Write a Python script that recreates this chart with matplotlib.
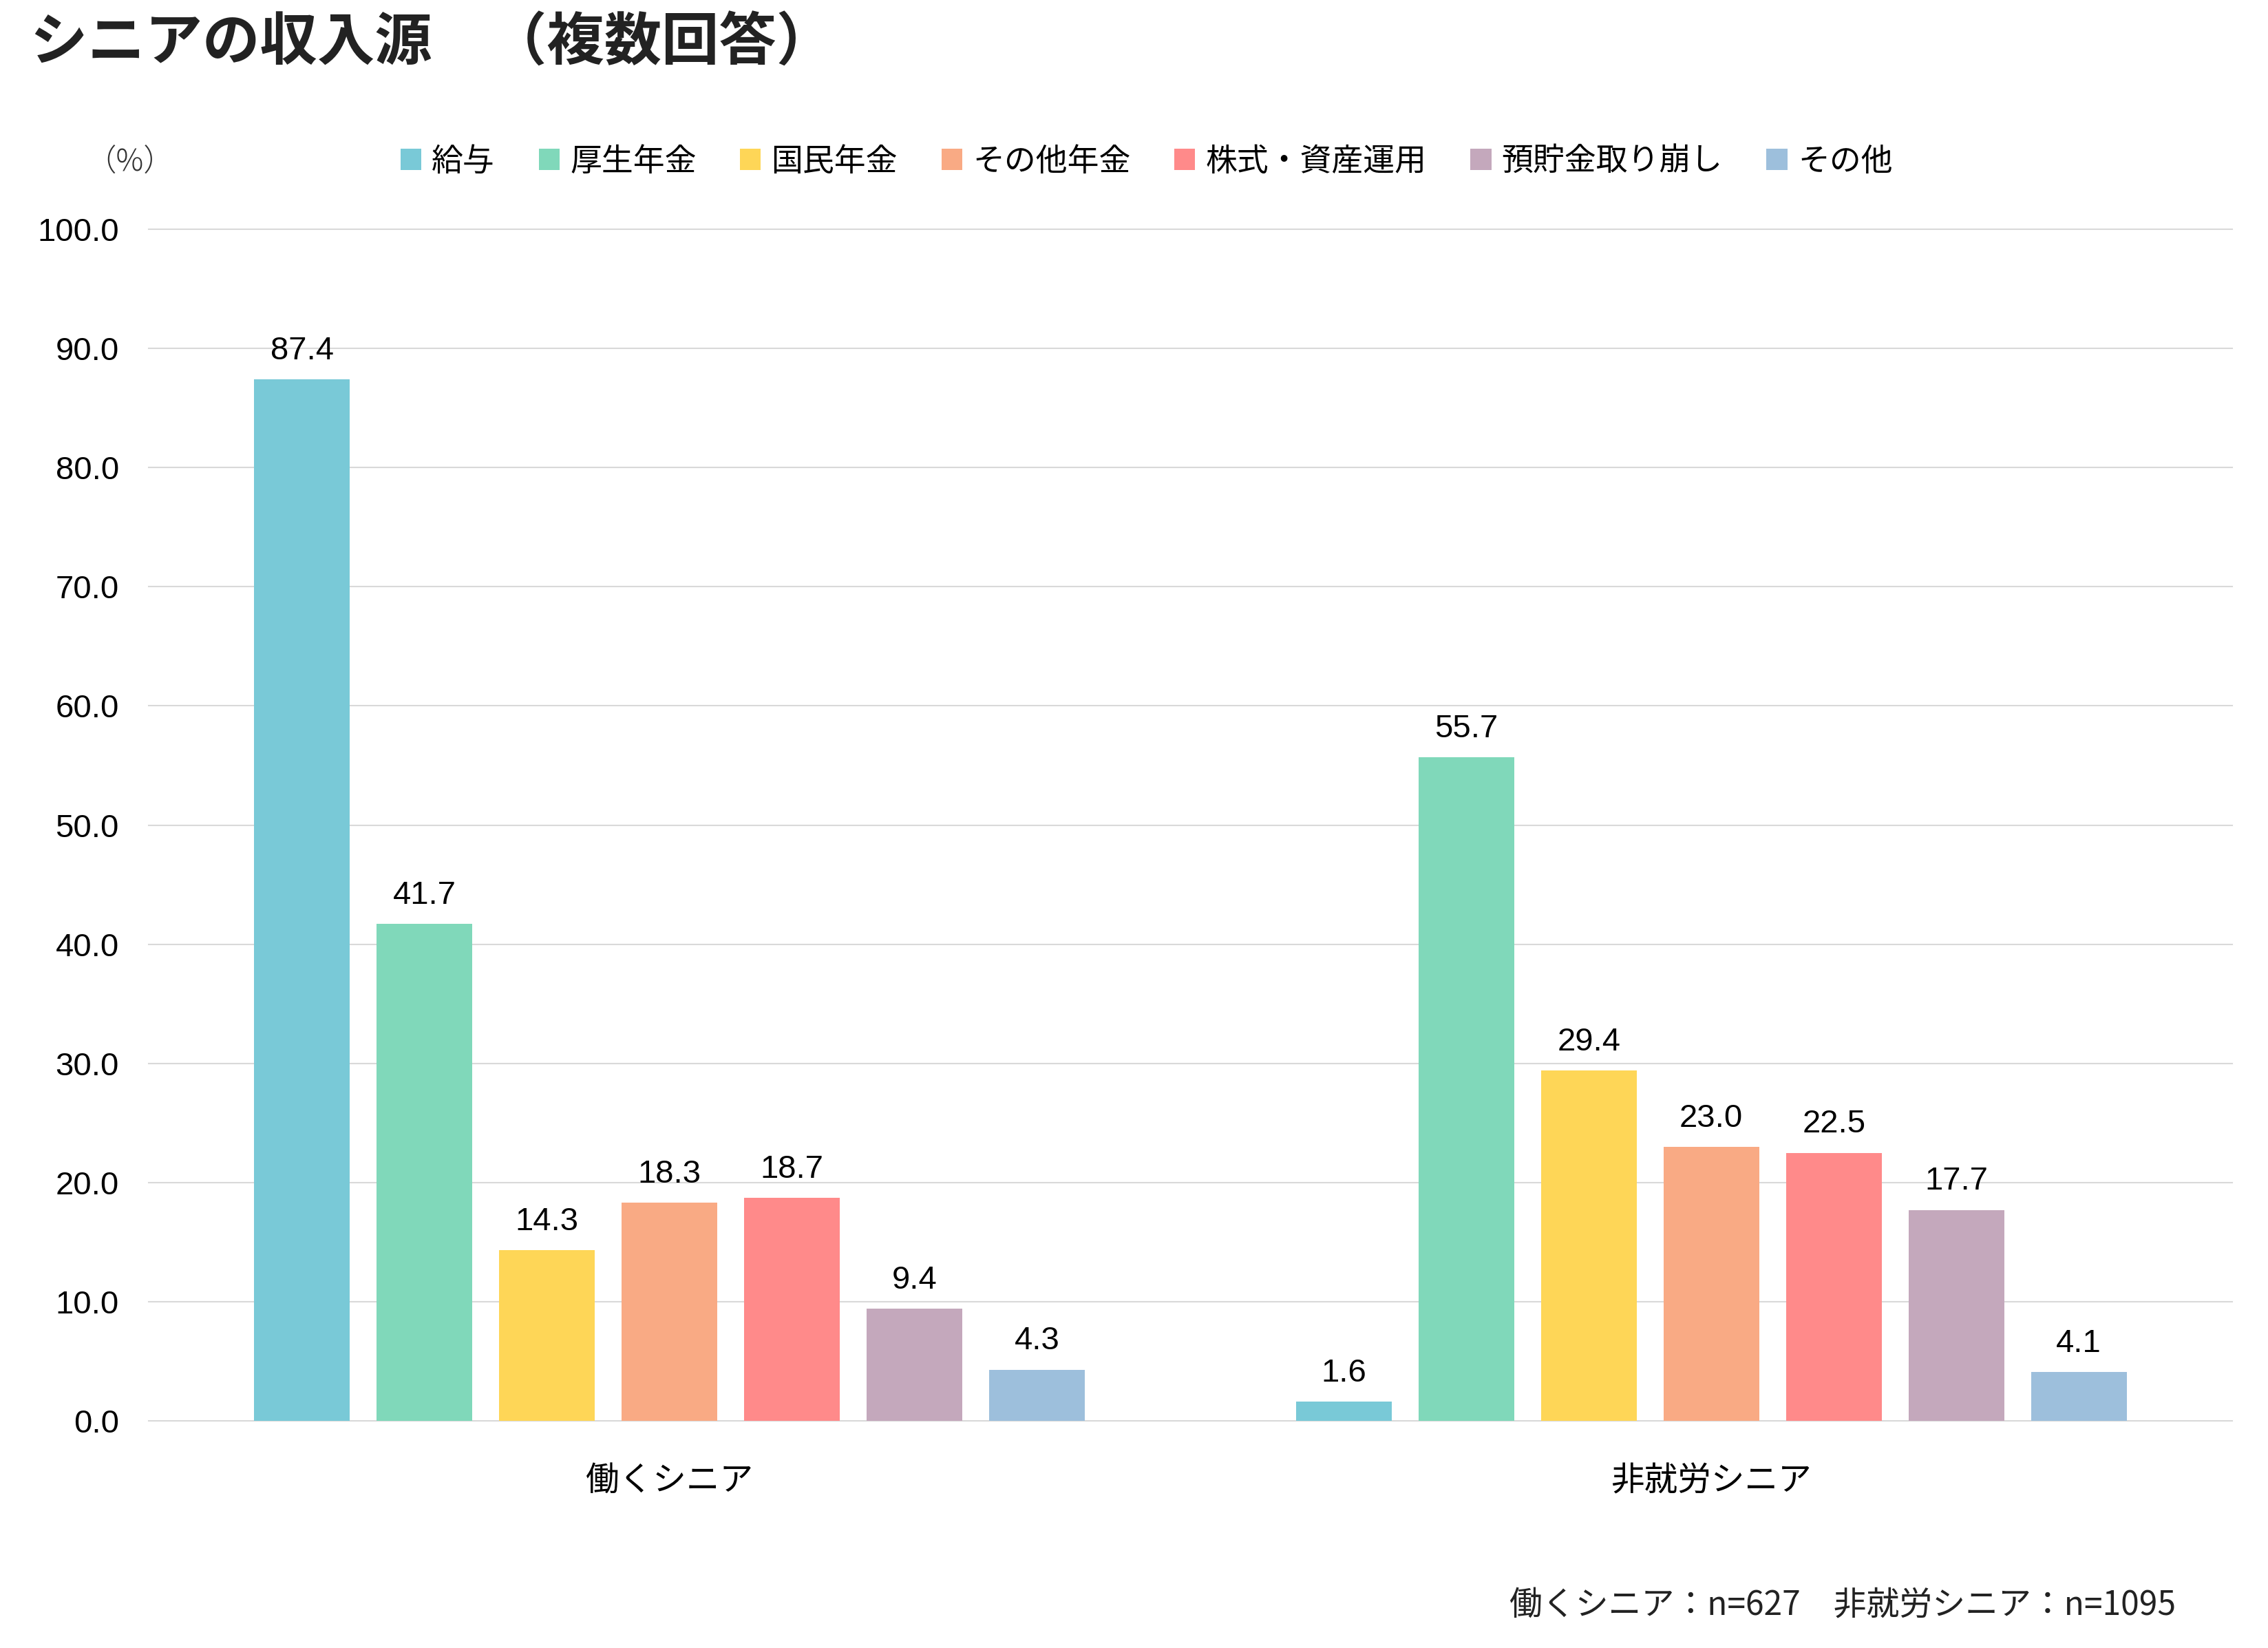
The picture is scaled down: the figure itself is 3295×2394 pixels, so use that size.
import matplotlib
matplotlib.use("Agg")
import matplotlib.pyplot as plt
from matplotlib.patches import Patch
import numpy as np

# ---- data ----
groups = ["働くシニア", "非就労シニア"]
series = ["給与", "厚生年金", "国民年金", "その他年金", "株式・資産運用", "預貯金取り崩し", "その他"]
working = [87.4, 41.7, 14.3, 18.3, 18.7, 9.4, 4.3]
nonworking = [1.6, 55.7, 29.4, 23.0, 22.5, 17.7, 4.1]
colors = ["#79C9D7", "#80D8BA", "#FED657", "#F9AA84", "#FF8A8A", "#C4A8BC", "#9DBFDC"]
yticks = [0, 10, 20, 30, 40, 50, 60, 70, 80, 90, 100]

title = "シニアの収入源　（複数回答）"
unit = "（%）"
footnote = "働くシニア：n=627　非就労シニア：n=1095"

JP = ["Noto Sans CJK JP", "DejaVu Sans"]
NUM = ["Liberation Sans", "DejaVu Sans"]
plt.rcParams['font.family'] = JP

W, H = 3295, 2394
fig = plt.figure(figsize=(W / 100, H / 100), dpi=100)
ax = fig.add_axes([216 / W, 1 - 2064 / H, (3243 - 216) / W, (2064 - 333) / H])

pitch = 0.1176
bw = 0.0917
x = np.arange(len(groups))
values = [working, nonworking]
for i, s in enumerate(series):
    vals = [v[i] for v in values]
    xs = x + (i - 3) * pitch
    ax.bar(xs, vals, width=bw, color=colors[i], zorder=3, label=s)
    for xx, vv in zip(xs, vals):
        ax.annotate(f"{vv:.1f}", (xx, vv), xytext=(0, 21), textcoords="offset points",
                    ha="center", va="baseline", fontsize=34, family=NUM, color="#000000")

ax.set_xlim(-0.5, 1.5)
ax.set_ylim(0, 100)
ax.set_yticks(yticks)
ax.set_yticklabels([f"{t:.1f}" for t in yticks], family=NUM, fontsize=34)
ax.set_xticks(x)
ax.set_xticklabels(groups, fontsize=35)
ax.tick_params(axis="y", length=0, pad=31)
ax.tick_params(axis="x", length=0, pad=45)
for sp in ax.spines.values():
    sp.set_visible(False)
ax.grid(axis="y", color="#D9D9D9", linewidth=1.5, zorder=0)
ax.set_axisbelow(True)
for ln in ax.get_ygridlines():
    ln.set_clip_on(False)

handles = [Patch(facecolor=c, edgecolor="none") for c in colors]
fig.legend(handles, series, loc="center", bbox_to_anchor=(0.5055, 0.902), ncol=7,
           frameon=False, fontsize=33, handlelength=0.66, handleheight=0.66,
           handletextpad=0.33, columnspacing=1.39, borderaxespad=0)

fig.text(0.0135, 0.9737, title, fontsize=60, fontweight="bold", color="#222222",
         ha="left", va="center")
fig.text(189 / W, 1 - 236 / H, unit, fontsize=32, color="#333333", ha="center", va="center",
         fontweight="light")
fig.text(0.9592, 0.0255, footnote, fontsize=34.5, color="#222222", ha="right", va="center")

fig.savefig("out.png", dpi=100, facecolor="white")
